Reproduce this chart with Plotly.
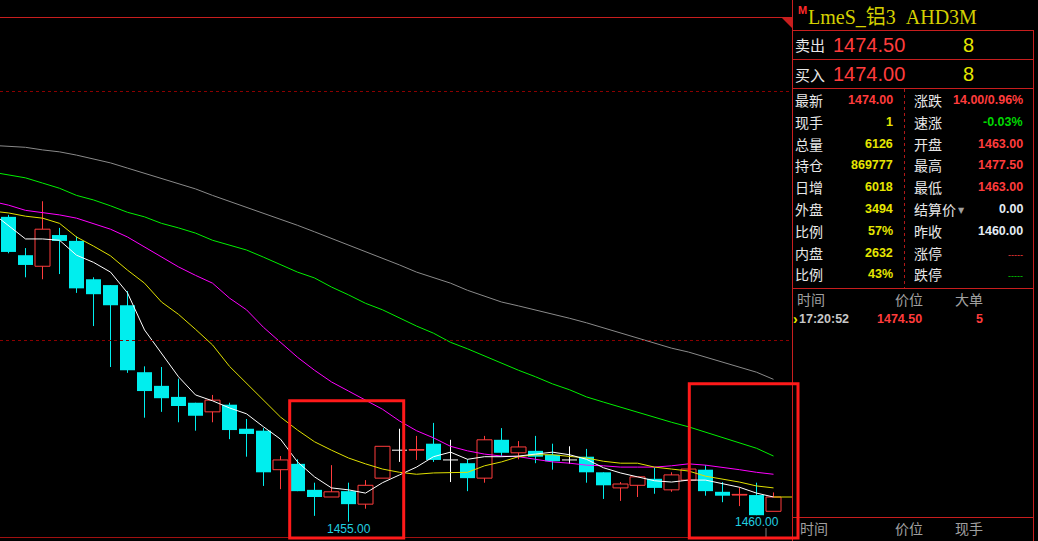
import plotly.graph_objects as go

W, H = 1038, 541
CHART_R = 792  # right edge of the k-line area (px)

# ---------------- data ----------------
bar_index = list(range(46))
open_p = [1689.5, 1660, 1651.5, 1675.5, 1671, 1641.5, 1637, 1621.5, 1570, 1559.5,
          1551, 1546.5, 1539.5, 1545, 1526.5, 1525, 1495, 1499.5, 1479.5, 1474,
          1478.5, 1468.5, 1488.5, 1510, 1510, 1515, 1502.5, 1500, 1488.5, 1518,
          1508, 1509.5, 1506.5, 1502.5, 1505, 1493, 1481, 1483, 1488, 1479.5,
          1487, 1495, 1478, 1475.5, 1475.5, 1463]
high_p = [1691, 1665.5, 1701.5, 1681, 1674.5, 1643, 1637, 1632.5, 1574.5, 1574,
          1565, 1546.5, 1552.5, 1546.5, 1534, 1527, 1505.5, 1503, 1485, 1498.5,
          1485, 1487, 1513, 1526.5, 1521, 1531, 1518, 1503, 1521, 1527,
          1517, 1521, 1515, 1513, 1511, 1493, 1485.5, 1489.5, 1496.5, 1493,
          1496.5, 1498.5, 1485.5, 1481.5, 1485, 1477.5]
low_p = [1661.5, 1643, 1641.5, 1645.5, 1631, 1605.5, 1574, 1569.5, 1535, 1539.5,
         1531.5, 1525, 1531.5, 1518.5, 1505, 1482.5, 1480, 1478.5, 1459.5, 1474,
         1455, 1465, 1488.5, 1501, 1502.5, 1501, 1485.5, 1478.5, 1485, 1505,
         1503, 1500, 1495, 1499.5, 1485, 1472.5, 1471, 1474, 1476.5, 1478,
         1487, 1475, 1470, 1467, 1460, 1463]
close_p = [1662.5, 1652.5, 1680, 1671, 1634.5, 1630, 1621.5, 1571.5, 1555.5, 1550,
           1544, 1536.5, 1548.5, 1525.5, 1522.5, 1493, 1502.5, 1478.5, 1474, 1478,
           1468.5, 1483, 1513, 1510, 1510.5, 1502.5, 1502.5, 1488.5, 1518, 1508,
           1512.5, 1505, 1501.5, 1502.5, 1493, 1483, 1484, 1489.5, 1481, 1491,
           1495.5, 1478.5, 1475, 1476, 1460, 1474]

ma_index = list(range(-1, 46))
ma_white = [1693, 1683, 1672.5, 1672.5, 1671.5, 1660, 1654.5, 1647, 1631, 1602.5,
            1584.5, 1566.5, 1552.5, 1548, 1542.5, 1538, 1528, 1518.5, 1501, 1489.5,
            1481, 1479.5, 1477, 1485, 1491, 1497, 1505, 1508.5, 1503, 1505,
            1505, 1505.5, 1507, 1508.5, 1506.5, 1503, 1496.5, 1492.5, 1489.5, 1486.5,
            1485.5, 1487, 1487, 1484, 1481.5, 1477, 1474]
ma_yellow = [1694, 1692.5, 1690, 1688.5, 1684.5, 1674, 1667, 1659.5, 1648.5, 1638.5,
             1624, 1614.5, 1603, 1591, 1574.5, 1561.5, 1548.5, 1535.5, 1525.5, 1516.5,
             1510, 1504, 1499.5, 1495.5, 1493, 1491.5, 1492.5, 1492.5, 1493, 1498,
             1501, 1505, 1506.5, 1506.5, 1505.5, 1504, 1501.5, 1500, 1500, 1497,
             1495.5, 1494, 1490, 1488, 1485.5, 1482.5, 1481]
ma_magenta = [1701.5, 1698.5, 1694.5, 1693, 1691, 1688.5, 1684, 1680, 1674, 1666.5,
              1658.5, 1651, 1644.5, 1638.5, 1627, 1618, 1604.5, 1593, 1581.5, 1571.5,
              1562.5, 1555.5, 1548.5, 1541.5, 1532.5, 1525, 1519.5, 1513, 1509.5, 1507,
              1505.5, 1505, 1503, 1501, 1500, 1498.5, 1498, 1497, 1497, 1497,
              1498, 1499.5, 1498.5, 1497, 1495, 1493, 1491.5]
ma_green = [1724, 1721.5, 1719.5, 1715.5, 1711.5, 1706, 1702.5, 1698, 1693, 1689.5,
            1684.5, 1681, 1677, 1671.5, 1668, 1664, 1658.5, 1652.5, 1647, 1642.5,
            1635.5, 1629.5, 1623, 1618, 1611.5, 1605.5, 1600, 1593, 1588, 1582.5,
            1576.5, 1571.5, 1566.5, 1561, 1556.5, 1551, 1547, 1543, 1539.5, 1535.5,
            1531.5, 1528, 1524, 1520, 1515.5, 1511.5, 1505.5]
ma_gray = [1744.5, 1744, 1743, 1741, 1739.5, 1737, 1734, 1731, 1727, 1723,
           1718.5, 1714.5, 1711, 1706, 1701.5, 1697, 1692.5, 1688, 1683, 1678,
           1673, 1668, 1663, 1658, 1652.5, 1647, 1643, 1638.5, 1633, 1628.5,
           1624, 1621, 1618, 1614.5, 1611.5, 1608, 1604, 1600, 1596.5, 1592.5,
           1588.5, 1585.5, 1581.5, 1578, 1574, 1570, 1564.5]

last_price = 1474.00
low_marks = [(20, 1455.00), (44, 1460.00)]

title_text = "LmeS_铝3\u00a0\u00a0AHD3M"
ask_row = ("卖出", "1474.50", "8")
bid_row = ("买入", "1474.00", "8")
left_labels = ["最新", "现手", "总量", "持仓", "日增", "外盘", "比例", "内盘", "比例"]
left_values = ["1474.00", "1", "6126", "869777", "6018", "3494", "57%", "2632", "43%"]
right_labels = ["涨跌", "速涨", "开盘", "最高", "最低", "结算价", "昨收", "涨停", "跌停"]
right_values = ["14.00/0.96%", "-0.03%", "1463.00", "1477.50", "1463.00", "0.00",
                "1460.00", "-----", "-----"]
tick_header = ["时间", "价位", "大单"]
tick_row = ("17:20:52", "1474.50", "5")
bottom_header = ["时间", "价位", "现手"]

# ---------------- styles ----------------
RED = "#FF3C3C"
CYAN = "#00EEEE"
YEL = "#E6E600"
GRN = "#00D800"
WHT = "#E4ECF4"
FRAME = "#C81E1E"
BOX = "#FF1A1A"
CJK = "Noto Sans CJK SC"
NUM = "Liberation Sans"

left_colors = [RED, YEL, YEL, YEL, YEL, YEL, YEL, YEL, YEL]
right_colors = [RED, GRN, RED, RED, RED, WHT, WHT, RED, GRN]

BW = 15 / 17  # candle body width in slot units


def px(x):
    return x / W


def py(y):
    return 1 - y / H


# ---------------- candles ----------------
up_x, up_b, up_h = [], [], []
dn_x, dn_b, dn_h = [], [], []
rwx, rwy, cwx, cwy, wwx, wwy = [], [], [], [], [], []
for i, o, h, l, c in zip(bar_index, open_p, high_p, low_p, close_p):
    if c > o:
        up_x.append(i); up_b.append(o); up_h.append(c - o)
        if h > c:
            rwx += [i, i, None]; rwy += [h, c, None]
        if l < o:
            rwx += [i, i, None]; rwy += [o, l, None]
    elif c < o:
        dn_x.append(i); dn_b.append(c); dn_h.append(o - c)
        cwx += [i, i, None]; cwy += [h, l, None]
    else:
        wwx += [i, i, None, i - BW / 2, i + BW / 2, None]
        wwy += [h, l, None, o, o, None]

fig = go.Figure()
fig.add_trace(go.Bar(x=dn_x, y=dn_h, base=dn_b, width=BW,
                     marker=dict(color=CYAN, line=dict(width=0)), hoverinfo="skip"))
fig.add_trace(go.Bar(x=up_x, y=up_h, base=up_b, width=BW,
                     marker=dict(color="#000000", line=dict(color=RED, width=1)),
                     hoverinfo="skip"))
fig.add_trace(go.Scatter(x=cwx, y=cwy, mode="lines", line=dict(color=CYAN, width=1),
                         hoverinfo="skip"))
fig.add_trace(go.Scatter(x=rwx, y=rwy, mode="lines", line=dict(color=RED, width=1),
                         hoverinfo="skip"))
fig.add_trace(go.Scatter(x=wwx, y=wwy, mode="lines", line=dict(color="#FFFFFF", width=1),
                         hoverinfo="skip"))

for vals, col in [(ma_gray, "#8A8A8A"), (ma_green, "#00F000"), (ma_magenta, "#FF00FF"),
                  (ma_yellow, "#E0E000"), (ma_white, "#FFFFFF")]:
    fig.add_trace(go.Scatter(x=ma_index, y=vals, mode="lines",
                             line=dict(color=col, width=1), hoverinfo="skip"))

# last price marker line
fig.add_trace(go.Scatter(x=[bar_index[-1], bar_index[-1] + 1.1], y=[last_price, last_price],
                         mode="lines", line=dict(color="#E0E000", width=1), hoverinfo="skip"))

# ---------------- axes ----------------
y_top = 1474 + 497 / 1.3
y_bot = 1474 - (H - 497) / 1.3
fig.update_layout(
    width=W, height=H, margin=dict(l=0, r=0, t=0, b=0, pad=0),
    paper_bgcolor="#000000", plot_bgcolor="#000000", showlegend=False,
    barmode="overlay",
    xaxis=dict(domain=[0, CHART_R / W], range=[-0.5, (CHART_R - 8.5) / 17],
               visible=False, fixedrange=True),
    yaxis=dict(domain=[0, 1], range=[y_bot, y_top], visible=False, fixedrange=True),
)

shapes = []


def hline(y, x0, x1, color, width=1, dash="solid"):
    shapes.append(dict(type="line", xref="paper", yref="paper", x0=px(x0), x1=px(x1),
                       y0=py(y), y1=py(y), line=dict(color=color, width=width, dash=dash)))


def vline(x, y0, y1, color, width=1, dash="solid"):
    shapes.append(dict(type="line", xref="paper", yref="paper", x0=px(x), x1=px(x),
                       y0=py(y0), y1=py(y1), line=dict(color=color, width=width, dash=dash)))


# chart frame
hline(17.5, 0, CHART_R, FRAME)
hline(91.5, 0, CHART_R, "#8B0000", dash="dot")
hline(340.5, 0, CHART_R, "#8B0000", dash="dot")
hline(537.5, 0, CHART_R, "#A01010")
vline(792.5, 0, H, FRAME)
shapes.append(dict(type="path", xref="paper", yref="paper",
                   path=f"M {px(781)},{py(17)} L {px(792)},{py(17)} L {px(792)},{py(28)} Z",
                   fillcolor=FRAME, line=dict(width=0)))
vline(766, 528, 537, "#808080")

# quote panel frame
for yy in (30.5, 59.5, 88.5, 288.5, 517.5):
    hline(yy, 792, 1033, FRAME)
vline(1033.5, 30, H, FRAME)
vline(904.5, 89, 288, "#B01818", dash="dot")

# highlight boxes
for (x0, y0, x1, y1) in [(289.7, 400.7, 403.7, 538), (689.3, 383.8, 798, 538)]:
    shapes.append(dict(type="rect", xref="paper", yref="paper", x0=px(x0), x1=px(x1),
                       y0=py(y1), y1=py(y0), line=dict(color=BOX, width=3)))

ann = []


def txt(x, y, s, color, size, family, anchor="left", weight="normal"):
    ann.append(dict(x=px(x), y=py(y), xref="paper", yref="paper", text=s, showarrow=False,
                    xanchor=anchor, yanchor="middle",
                    font=dict(color=color, size=size, family=family, weight=weight)))


# low labels
for i, v in low_marks:
    ann.append(dict(x=i, y=v, xref="x", yref="y", text=f"{v:.2f}", showarrow=False,
                    xanchor="center", yanchor="middle", yshift=-7,
                    font=dict(color="#20D0E0", size=12, family=NUM)))

# title
txt(796, 10, "M", "#FF2A2A", 11, NUM, weight="bold")
txt(806, 17, title_text, "#D4D000", 20, "Liberation Serif, " + CJK)

# ask/bid
for (lab, price, vol), yy in [(ask_row, 45), (bid_row, 74.5)]:
    txt(793, yy, lab, "#E8E8E8", 15, CJK)
    txt(831, yy, price, RED, 20, NUM)
    txt(961, yy, vol, YEL, 20, NUM)

# quote table
for k in range(9):
    yy = 100 + 21.8 * k
    txt(793, yy, left_labels[k], "#E8E8E8", 14, CJK)
    txt(895, yy, left_values[k], left_colors[k], 12.5, NUM, anchor="right", weight="bold")
    txt(912, yy, right_labels[k], "#E8E8E8", 14, CJK)
    if right_values[k] == "-----":
        txt(1025, yy + 2, right_values[k], right_colors[k], 9, NUM, anchor="right")
    else:
        txt(1025, yy, right_values[k], right_colors[k], 12.5, NUM, anchor="right",
            weight="bold")
txt(956, 100 + 21.8 * 5 + 1, "▼", "#A0A0A0", 8, "DejaVu Sans")

# tick list
for s, xx in zip(tick_header, (795, 893, 953)):
    txt(xx, 299, s, "#A0A0A0", 14, CJK)
txt(791, 319, "›", YEL, 14, NUM, weight="bold")
txt(797, 319, tick_row[0], "#C8C8C8", 12.5, NUM, weight="bold")
txt(924, 319, tick_row[1], RED, 12.5, NUM, anchor="right", weight="bold")
txt(985, 319, tick_row[2], RED, 12.5, NUM, anchor="right", weight="bold")
for s, xx in zip(bottom_header, (798, 893, 953)):
    txt(xx, 528, s, "#A0A0A0", 14, CJK)

fig.update_layout(shapes=shapes, annotations=ann)
fig.write_html("out.html", config={"displayModeBar": False, "staticPlot": True},
               post_script="document.body.style.margin='0';"
                           "document.body.style.background='#000';")
